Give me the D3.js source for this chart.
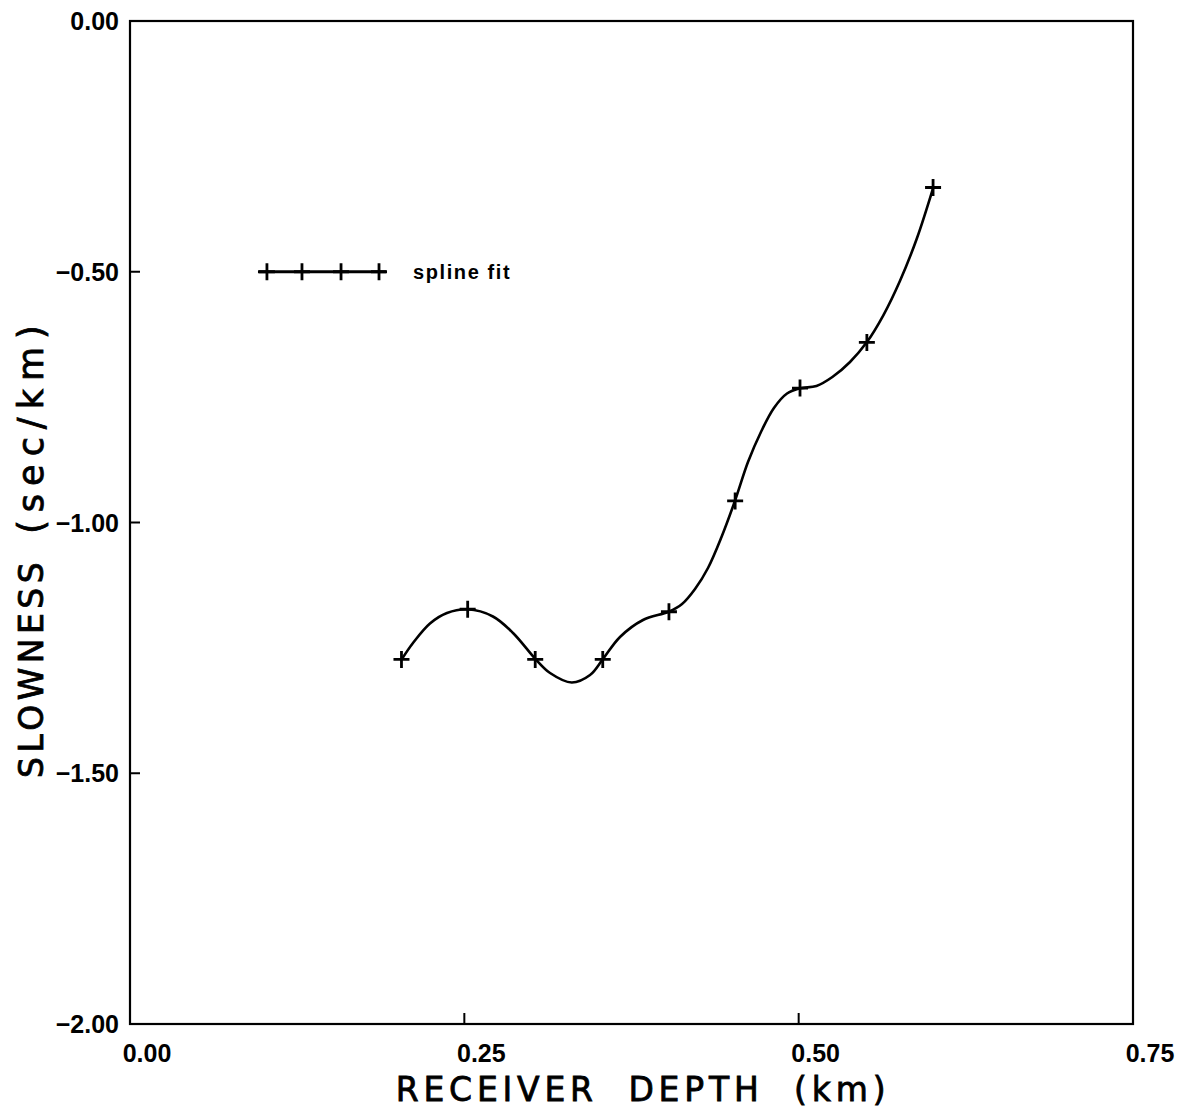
<!DOCTYPE html>
<html><head><meta charset="utf-8">
<script src="https://cdn.jsdelivr.net/npm/d3@7"></script>
<style>body{margin:0;background:#fff}text{white-space:pre}</style>
</head><body><svg id="c" width="1185" height="1113"></svg>
<script>
// knots (plotted with + markers)
const depth = [0.203, 0.2525, 0.303, 0.3535, 0.403, 0.4525, 0.501, 0.551, 0.6005];
const slowness = [-1.273, -1.173, -1.273, -1.273, -1.178, -0.957, -0.732, -0.641, -0.332];
// spline fit curve
const fitDepth = [0.2032, 0.2116, 0.2243, 0.2370, 0.2525, 0.2714, 0.2864, 0.3034, 0.3141, 0.3303,
  0.3440, 0.3535, 0.3664, 0.3836, 0.4028, 0.4128, 0.4225, 0.4322, 0.4423, 0.4524, 0.4621, 0.4718,
  0.4815, 0.4913, 0.5010, 0.5133, 0.5252, 0.5384, 0.5509, 0.5633, 0.5758, 0.5883, 0.6007];
const fitSlowness = [-1.2728, -1.2403, -1.2014, -1.1805, -1.1731, -1.1874, -1.2203, -1.2728, -1.3001, -1.3190,
  -1.3041, -1.2728, -1.2283, -1.1944, -1.1779, -1.1625, -1.1326, -1.0907, -1.0289, -0.9565, -0.8794, -0.8195,
  -0.7717, -0.7428, -0.7324, -0.7278, -0.7099, -0.6799, -0.6407, -0.5868, -0.5179, -0.4341, -0.3316];
const xTicks = [0, 0.25, 0.5, 0.75];
const yTicks = [0, -0.5, -1, -1.5, -2];
const xTickLabels = ["0.00", "0.25", "0.50", "0.75"];
const yTickLabels = ["0.00", "\u22120.50", "\u22121.00", "\u22121.50", "\u22122.00"];
const legendLineX = [0.0957, 0.1914];
const legendMarkX = [0.1024, 0.1286, 0.1578, 0.1862];
const legendY = -0.5;
const legendLabel = "spline fit";
const xTitle = "RECEIVER  DEPTH  (km)";
const yTitleParts = ["SLOWNESS", "(sec/km)"];

const svg = d3.select("#c");
const L = 130, R = 1133, T = 21, B = 1024;
const x = d3.scaleLinear().domain([0, 0.75]).range([L, R]);
const y = d3.scaleLinear().domain([-2, 0]).range([B, T]);

// frame
svg.append("rect").attr("x", L).attr("y", T).attr("width", R - L).attr("height", B - T)
  .attr("fill", "none").attr("stroke", "#000").attr("stroke-width", 2.2);

// inward ticks
const g = svg.append("g").attr("stroke", "#000").attr("stroke-width", 2);
g.selectAll(".xt").data(xTicks).join("line")
  .attr("x1", d => x(d)).attr("x2", d => x(d)).attr("y1", B).attr("y2", B - 11);
g.selectAll(".yt").data(yTicks).join("line")
  .attr("y1", d => y(d)).attr("y2", d => y(d)).attr("x1", L).attr("x2", L + 10);

const tickFont = "'Liberation Sans', Arial, sans-serif";
svg.selectAll(".xl").data(xTicks).join("text")
  .attr("x", d => x(d) + 17).attr("y", 1062)
  .attr("text-anchor", "middle").attr("font-family", tickFont)
  .attr("font-weight", "bold").attr("font-size", 25)
  .text((d, i) => xTickLabels[i]);
svg.selectAll(".yl").data(yTicks).join("text")
  .attr("x", 119).attr("y", d => y(d)).attr("dy", "0.36em")
  .attr("text-anchor", "end").attr("font-family", tickFont)
  .attr("font-weight", "bold").attr("font-size", 25)
  .text((d, i) => yTickLabels[i]);

// titles
const titleFont = "'DejaVu Sans', sans-serif";
svg.append("text").attr("x", 643).attr("y", 1101).attr("text-anchor", "middle")
  .attr("font-family", titleFont).attr("font-size", 33).attr("letter-spacing", 4.8)
  .attr("stroke", "#000").attr("stroke-width", 0.8)
  .text(xTitle);
const yt = svg.append("text").attr("transform", "translate(43,778) rotate(-90)")
  .attr("text-anchor", "start")
  .attr("font-family", titleFont).attr("font-size", 33)
  .attr("stroke", "#000").attr("stroke-width", 0.8);
yt.append("tspan").attr("letter-spacing", 4.5).text(yTitleParts[0]);
yt.append("tspan").attr("dx", 24).attr("font-size", 35).attr("letter-spacing", 8).text(yTitleParts[1]);

// curve
const fit = fitDepth.map((d, i) => [d, fitSlowness[i]]);
const line = d3.line().x(d => x(d[0])).y(d => y(d[1])).curve(d3.curveCatmullRom.alpha(0.5));
svg.append("path").attr("d", line(fit)).attr("fill", "none")
  .attr("stroke", "#000").attr("stroke-width", 2.6).attr("stroke-linejoin", "round");

const pts = depth.map((d, i) => [d, slowness[i]]);
function plus(sel) {
  sel.attr("d", "M-8,0H8M0,-8.5V8.5").attr("stroke", "#000").attr("stroke-width", 2.8).attr("fill", "none");
}
svg.selectAll(".pt").data(pts).join("path")
  .attr("transform", d => `translate(${x(d[0])},${y(d[1])})`).call(plus);

// legend
svg.append("line").attr("x1", x(legendLineX[0])).attr("x2", x(legendLineX[1]))
  .attr("y1", y(legendY)).attr("y2", y(legendY)).attr("stroke", "#000").attr("stroke-width", 2.8);
svg.selectAll(".lm").data(legendMarkX).join("path")
  .attr("transform", d => `translate(${x(d)},${y(legendY)})`).call(plus);
svg.append("text").attr("x", 413).attr("y", y(legendY) + 7)
  .attr("font-family", tickFont).attr("font-weight", "bold").attr("font-size", 20)
  .attr("letter-spacing", 1.6).text(legendLabel);
</script></body></html>
